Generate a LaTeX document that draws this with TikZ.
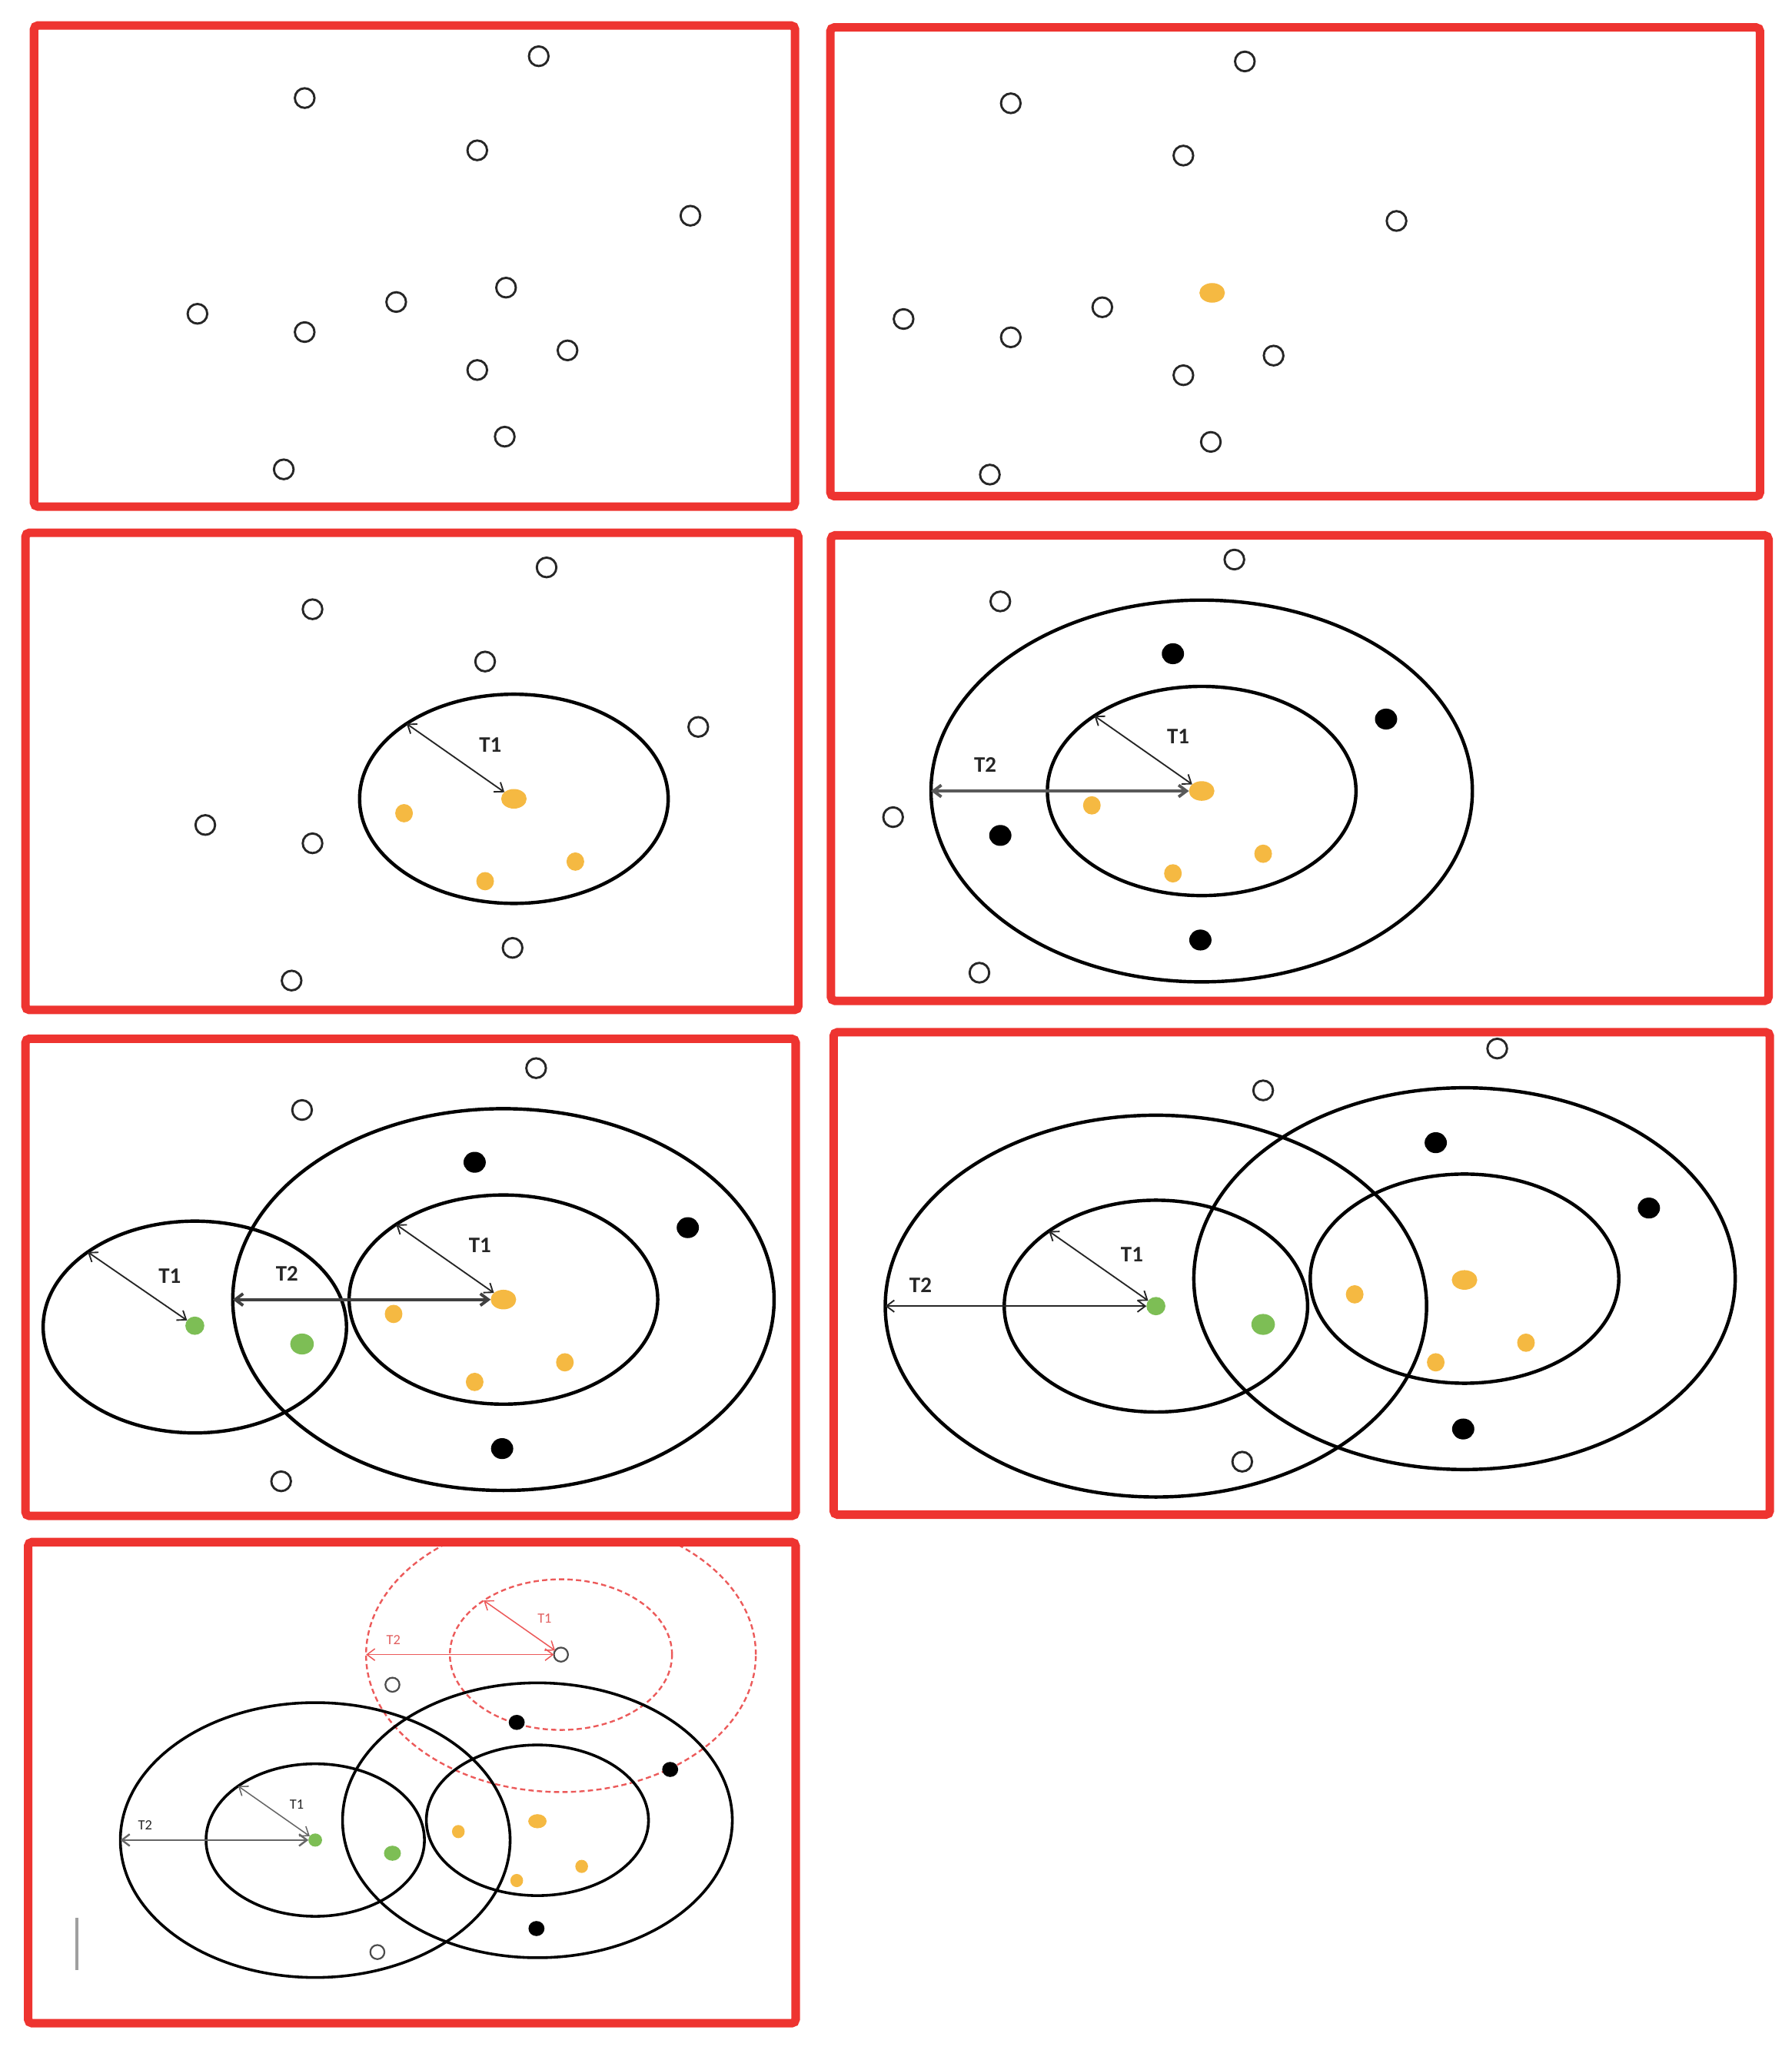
\documentclass[tikz,border=0pt]{standalone}
\usepackage{fontspec}
\setmainfont{Carlito}
\usetikzlibrary{shapes.geometric,arrows.meta}
\definecolor{framered}{RGB}{238,52,48}
\definecolor{orangec}{RGB}{245,185,66}
\definecolor{greenc}{RGB}{125,190,85}
\definecolor{redl}{RGB}{236,90,90}
\definecolor{redt}{RGB}{225,95,95}
\tikzset{
  panelframe/.style={draw=framered, line width=6.5pt, rounded corners=3pt},
  dotb/.style={ellipse, inner sep=0pt, outer sep=0pt},
  opendot/.style={dotb, draw=black!85, fill=white, line width=1.7pt, minimum width=15pt, minimum height=15pt},
  orbig/.style={dotb, fill=orangec, minimum width=19.5pt, minimum height=15pt},
  orsm/.style={dotb, fill=orangec, minimum width=13.5pt, minimum height=14pt},
  blk/.style={dotb, fill=black, minimum width=17pt, minimum height=16pt},
  grbig/.style={dotb, fill=greenc, minimum width=18pt, minimum height=16pt},
  grsm/.style={dotb, fill=greenc, minimum width=14.5pt, minimum height=14pt},
  ring/.style={ellipse, draw=black, line width=2.6pt, inner sep=0pt, outer sep=0pt},
  ringin/.style={ring, minimum width=236pt, minimum height=160pt},
  ringout/.style={ring, minimum width=414pt, minimum height=292pt},
  ringinG/.style={ring, minimum width=232pt, minimum height=162pt},
  reddash/.style={draw=redl, dash pattern=on 4pt off 2.5pt, line width=1.4pt},
  t1arr/.style={draw=black!85, line width=1.1pt, arrows={Straight Barb[length=6pt,width=9pt]-Straight Barb[length=6pt,width=9pt]}},
  t2arr/.style={t1arr, draw=black!65, line width=2.3pt},
  redarr/.style={t1arr, draw=redl, line width=0.9pt},
  lab/.style={inner sep=0pt, text=black!85, font=\fontsize{17}{17}\selectfont\bfseries},
}
\newcommand\dotsA[7]{%
  \node[#2] (#1A) at (412,43) {};
  \node[#3] (#1B) at (233,75) {};
  \node[#4] (#1C) at (365,115) {};
  \node[#5] (#1D) at (528,165) {};
  \node[#6] (#1E) at (387,220) {};
  \node[#7] (#1F) at (303,231) {};}
\newcommand\dotsB[7]{%
  \node[#2] (#1G) at (151,240) {};
  \node[#3] (#1H) at (233,254) {};
  \node[#4] (#1I) at (434,268) {};
  \node[#5] (#1J) at (365,283) {};
  \node[#6] (#1K) at (386,334) {};
  \node[#7] (#1L) at (217,359) {};}
\begin{document}
\begin{tikzpicture}[x=1pt,y=-1pt]
\useasboundingbox (0,0) rectangle (1370,1568);

% ---------- Panel 1
\draw[panelframe] (26,19.5) rectangle (608,387.5);
\begin{scope}
  \dotsA{a}{opendot}{opendot}{opendot}{opendot}{opendot}{opendot}
  \dotsB{a}{opendot}{opendot}{opendot}{opendot}{opendot}{opendot}
\end{scope}

% ---------- Panel 2
\draw[panelframe] (635,21) rectangle (1346,379.5);
\begin{scope}[shift={(540,4)}]
  \dotsA{b}{opendot}{opendot}{opendot}{opendot}{orbig}{opendot}
  \dotsB{b}{opendot}{opendot}{opendot}{opendot}{opendot}{opendot}
\end{scope}

% ---------- Panel 3
\draw[panelframe] (19.5,407.5) rectangle (610.5,772.5);
\begin{scope}[shift={(6,391)}]
  \node[ringin] (cR) at (387,220) {};
  \dotsA{c}{opendot}{opendot}{opendot}{opendot}{orbig}{orsm}
  \dotsB{c}{opendot}{opendot}{orsm}{orsm}{opendot}{opendot}
  \draw[t1arr] (cR.145) -- (cE);
  \node[lab] (cT1) at (369,178.5) {T1};
\end{scope}

% ---------- Panel 4
\draw[panelframe] (635.5,409.5) rectangle (1352.5,765.5);
\begin{scope}[shift={(532,385)}]
  \node[ringout] (dO) at (387,220) {};
  \node[ringin] (dR) at (387,220) {};
  \dotsA{d}{opendot}{opendot}{blk}{blk}{orbig}{orsm}
  \dotsB{d}{opendot}{blk}{orsm}{orsm}{blk}{opendot}
  \draw[t1arr] (dR.145) -- (dE);
  \draw[t2arr] (dO.west) -- (dE);
  \node[lab] (dT1) at (369,178.5) {T1};
  \node[lab] (dT2) at (221.5,200) {T2};
\end{scope}

% ---------- Panel 5
\draw[panelframe] (19.5,794.5) rectangle (608.5,1159.5);
\begin{scope}[shift={(-2,774)}]
  \node[ringout] (eO) at (387,220) {};
  \node[ringin] (eR) at (387,220) {};
  \node[ringinG] (eRG) at (151,241) {};
  \dotsA{e}{opendot}{opendot}{blk}{blk}{orbig}{orsm}
  \dotsB{e}{grsm}{grbig}{orsm}{orsm}{blk}{opendot}
  \draw[t1arr] (eR.145) -- (eE);
  \draw[t1arr] (eRG.145) -- (eG);
  \draw[t2arr, draw=black!75] (eO.west) -- (eE);
  \node[lab] (eT1) at (369,178.5) {T1};
  \node[lab] (eT1G) at (131.8,202) {T1};
  \node[lab] (eT2) at (221.5,200) {T2};
\end{scope}

% ---------- Panel 6
\draw[panelframe] (637.5,789.5) rectangle (1353.5,1158.5);
\begin{scope}[shift={(733,759)}]
  \node[ringout] (fOG) at (151,240) {};
  \node[ringinG] (fRG) at (151,240) {};
  \node[ringout] (fO) at (387,219) {};
  \node[ringin] (fR) at (387,219) {};
  \dotsA{f}{opendot}{opendot}{blk}{blk}{orbig}{orsm}
  \dotsB{f}{grsm}{grbig}{orsm}{orsm}{blk}{opendot}
  \draw[t1arr] (fRG.145) -- (fG);
  \draw[t1arr] (fOG.west) -- (fG);
  \node[lab] (fT1) at (132.7,200.8) {T1};
  \node[lab] (fT2) at (-29,224) {T2};
\end{scope}

% ---------- Panel 7
\draw[panelframe] (21.5,1179.5) rectangle (608.5,1547.5);
\begin{scope}
  \clip (25,1183) rectangle (605,1544);
  \begin{scope}[shift={(132.36,1234.6)}, scale=0.72, transform shape,
      ring/.append style={line width=2.1pt},
      opendot/.append style={line width=1.3pt, draw=black!70},
      lab/.append style={font=\fontsize{15}{15}\selectfont}]
    \node[ringout, reddash] (gOA) at (412,43) {};
    \node[ringin, reddash] (gRA) at (412,43) {};
    \node[ringout] (gOG) at (151,240) {};
    \node[ringinG] (gRG) at (151,240) {};
    \node[ringout] (gO) at (387,219) {};
    \node[ringin] (gR) at (387,219) {};
    \dotsA{g}{opendot}{opendot}{blk}{blk}{orbig}{orsm}
    \dotsB{g}{grsm}{grbig}{orsm}{orsm}{blk}{opendot}
    \draw[redarr] (gRA.145) -- (gA);
    \draw[redarr] (gOA.west) -- (gA);
    \node[lab, text=redt] (gT1A) at (394.6,4.3) {T1};
    \node[lab, text=redt] (gT2A) at (234,27.5) {T2};
    \draw[t1arr, draw=black!60, line width=0.9pt] (gRG.145) -- (gG);
    \draw[t1arr, draw=black!60, line width=1.4pt] (gOG.west) -- (gG);
    \node[lab] (gT1) at (131.4,201.9) {T1};
    \node[lab] (gT2) at (-29.7,224.2) {T2};
  \end{scope}
\end{scope}
\draw[gray!75, line width=2.5pt] (59,1467) -- (59,1507);
\end{tikzpicture}
\end{document}
